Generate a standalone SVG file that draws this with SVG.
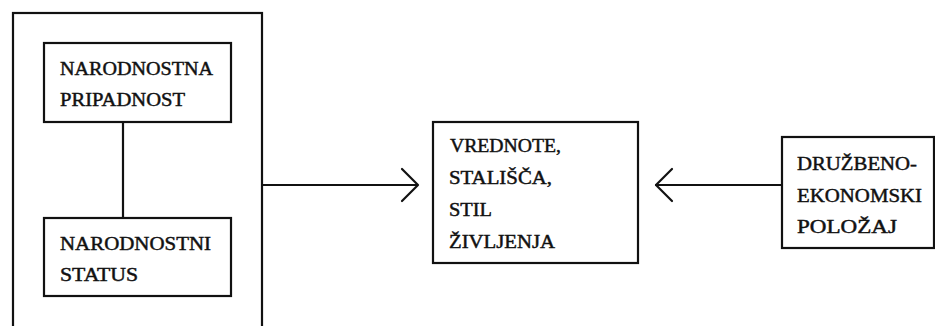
<svg xmlns="http://www.w3.org/2000/svg" width="935" height="326" viewBox="0 0 935 326">
<style>
.box{fill:none;stroke:#111;stroke-width:2.2}
.t{font-family:"Liberation Serif","Times New Roman",serif;font-size:18.5px;fill:#111;stroke:#111;stroke-width:0.45}
.c{fill:none;stroke:#111;stroke-width:2.2;stroke-linecap:round;stroke-linejoin:round}
</style>
<rect width="935" height="326" fill="#fff"/>
<g id="outer">
<rect class="box" x="13" y="13" width="249" height="330"/>
</g>
<g id="n-pripadnost">
<rect class="box" x="44" y="43" width="187" height="79"/>
<text class="t" x="60" y="75" textLength="153" lengthAdjust="spacingAndGlyphs">NARODNOSTNA</text>
<text class="t" x="60" y="106" textLength="125" lengthAdjust="spacingAndGlyphs">PRIPADNOST</text>
</g>
<g id="n-status">
<rect class="box" x="44" y="218" width="187" height="78"/>
<text class="t" x="60" y="250" textLength="151" lengthAdjust="spacingAndGlyphs">NARODNOSTNI</text>
<text class="t" x="60" y="281" textLength="78" lengthAdjust="spacingAndGlyphs">STATUS</text>
</g>
<g id="n-vrednote">
<rect class="box" x="433" y="122" width="205" height="141"/>
<text class="t" x="450" y="152" textLength="111" lengthAdjust="spacingAndGlyphs">VREDNOTE,</text>
<text class="t" x="449" y="184" textLength="103" lengthAdjust="spacingAndGlyphs">STALIŠČA,</text>
<text class="t" x="449" y="216" textLength="43" lengthAdjust="spacingAndGlyphs">STIL</text>
<text class="t" x="449" y="248" textLength="106" lengthAdjust="spacingAndGlyphs">ŽIVLJENJA</text>
</g>
<g id="n-polozaj">
<rect class="box" x="782" y="137" width="152" height="111"/>
<text class="t" x="797" y="170" textLength="120" lengthAdjust="spacingAndGlyphs">DRUŽBENO-</text>
<text class="t" x="797" y="202" textLength="125" lengthAdjust="spacingAndGlyphs">EKONOMSKI</text>
<text class="t" x="797" y="233" textLength="100" lengthAdjust="spacingAndGlyphs">POLOŽAJ</text>
</g>
<g id="connectors">
<line class="c" x1="123" y1="122" x2="123" y2="218"/>
<line class="c" x1="262" y1="185" x2="417" y2="185"/>
<polyline class="c" points="402,169 418,185 402,201"/>
<line class="c" x1="656" y1="185" x2="782" y2="185"/>
<polyline class="c" points="672,169 656,185 672,201"/>
</g>
</svg>
